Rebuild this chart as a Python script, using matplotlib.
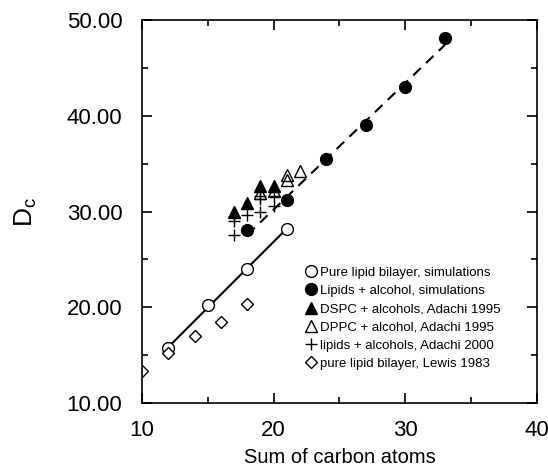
import matplotlib
matplotlib.use('Agg')
import matplotlib.pyplot as plt
import numpy as np

plt.rcParams['font.family'] = ['Liberation Sans', 'DejaVu Sans']

# simulations
sim_pure_x = [12, 15, 18, 21]
sim_pure_y = [15.7, 20.2, 24.0, 28.2]
sim_alc_x = [18, 21, 24, 27, 30, 33]
sim_alc_y = [28.1, 31.2, 35.5, 39.0, 43.0, 48.1]

# experiments
dspc_x = [17, 18, 19, 20]
dspc_y = [30.0, 30.9, 32.7, 32.7]
dppc_x = [19, 20, 21, 21, 22]
dppc_y = [31.9, 32.1, 33.8, 33.3, 34.2]
adachi_x = [17, 17, 17, 18, 19, 19, 19, 20, 20]
adachi_y = [29.4, 29.0, 27.6, 29.6, 31.6, 31.3, 30.0, 31.6, 30.6]
lewis_x = [10, 12, 14, 16, 18]
lewis_y = [13.3, 15.2, 17.0, 18.5, 20.3]

fig = plt.figure(figsize=(5.48, 4.68), dpi=100)
ax = fig.add_axes([0.259, 0.139, 0.721, 0.818])

# fitted lines
p1 = np.polyfit(sim_pure_x, sim_pure_y, 1)
xx1 = np.array([min(sim_pure_x), max(sim_pure_x)])
ax.plot(xx1, np.polyval(p1, xx1), color='black', lw=1.5)
p2 = np.polyfit(sim_alc_x, sim_alc_y, 1)
xx2 = np.array([min(sim_alc_x), max(sim_alc_x)])
ax.plot(xx2, np.polyval(p2, xx2), color='black', lw=1.5, dashes=(5, 3.5))

ax.plot(sim_pure_x, sim_pure_y, 'o', ms=8.5, mfc='white', mec='black', mew=1,
        ls='none', label='Pure lipid bilayer, simulations')
ax.plot(sim_alc_x, sim_alc_y, 'o', ms=8.5, mfc='black', mec='black',
        ls='none', label='Lipids + alcohol, simulations')
ax.plot(dspc_x, dspc_y, '^', ms=8, mfc='black', mec='black',
        ls='none', label='DSPC + alcohols, Adachi 1995')
ax.plot(dppc_x, dppc_y, '^', ms=8, mfc='none', mec='black', mew=1,
        ls='none', label='DPPC + alcohol, Adachi 1995')
ax.plot(adachi_x, adachi_y, '+', ms=9, mec='black', mew=1,
        ls='none', label='lipids + alcohols, Adachi 2000')
ax.plot(lewis_x, lewis_y, 'D', ms=6.5, mfc='white', mec='black', mew=1,
        ls='none', label='pure lipid bilayer, Lewis 1983')

ax.set_xlim(10, 40)
ax.set_ylim(10, 50)
ax.set_xticks([10, 20, 30, 40])
ax.set_xticks([15, 25, 35], minor=True)
ax.set_yticks([10, 20, 30, 40, 50])
ax.set_yticks([15, 25, 35, 45], minor=True)
ax.set_yticklabels(['10.00', '20.00', '30.00', '40.00', '50.00'])
ax.tick_params(which='both', direction='in', top=True, right=True,
               labelsize=16, width=1.2)
ax.tick_params(which='major', length=7)
ax.tick_params(axis='x', which='major', pad=12)
ax.tick_params(axis='y', which='major', pad=14)
ax.tick_params(which='minor', length=4)
for s in ax.spines.values():
    s.set_linewidth(1.2)

ax.set_xlabel('Sum of carbon atoms', fontsize=14.5, labelpad=5)
ax.set_ylabel('D$_\\mathregular{c}$', fontsize=19, labelpad=20)

ax.legend(loc='upper left', bbox_to_anchor=(0.40, 0.37), frameon=False,
          fontsize=9.5, handlelength=0.8, handletextpad=0.3,
          labelspacing=0.45, borderaxespad=0, markerscale=1.0)

fig.savefig('out.png', dpi=100)
